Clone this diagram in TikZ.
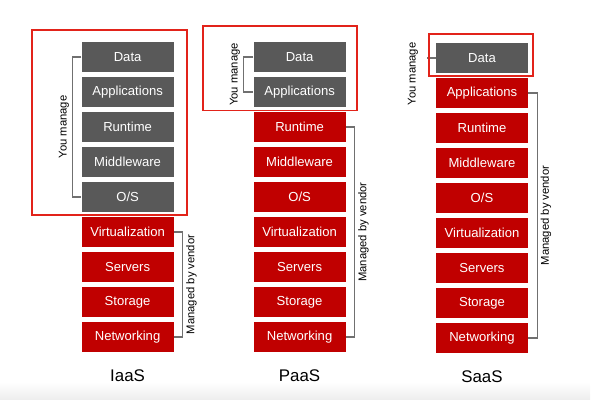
\documentclass[tikz,border=0pt]{standalone}
\usepackage{fontspec}
\setmainfont{Liberation Sans}
\usetikzlibrary{positioning}
\definecolor{boxred}{HTML}{C00000}
\definecolor{boxgray}{HTML}{595959}
\definecolor{framered}{HTML}{E2231A}
\definecolor{linegray}{HTML}{707070}
\tikzset{
layer/.style={minimum width=2.3cm, minimum height=0.75cm, inner sep=0pt, text=white, font=\fontsize{9.3}{10}\selectfont}, % one row of a stack
vendor/.style={layer, fill=boxred}, % rows the vendor runs
mine/.style={layer, fill=boxgray}, % rows you run yourself
frame/.style={draw=framered, line width=1.2pt},
bracket/.style={draw=linegray, line width=0.8pt},
side/.style={font=\fontsize{8}{9}\selectfont, rotate=90, inner sep=2pt},
model/.style={font=\fontsize{12}{14}\selectfont},
node distance=0.875cm, % pitch of the rows. Change if necessary.
}
\begin{document}
\begin{tikzpicture}
\useasboundingbox (0,0) rectangle (15,-10);
\shade[top color=white, bottom color=black!7] (0,-9.55) rectangle (14.75,-10);
% IaaS
\node[mine] (IData) at (3.19,-1.425) {Data};
\node[mine, below of=IData] (IApps) {Applications};
\node[mine, below of=IApps] (IRun) {Runtime};
\node[mine, below of=IRun] (IMid) {Middleware};
\node[mine, below of=IMid] (IOS) {O/S};
\node[vendor, below of=IOS] (IVirt) {Virtualization};
\node[vendor, below of=IVirt] (IServ) {Servers};
\node[vendor, below of=IServ] (IStor) {Storage};
\node[vendor, below of=IStor] (INet) {Networking};
\node[model, below of=INet, yshift=-0.1cm] (IaaS) {IaaS};
% PaaS
\node[mine] (PData) at (7.49,-1.425) {Data};
\node[mine, below of=PData] (PApps) {Applications};
\node[vendor, below of=PApps] (PRun) {Runtime};
\node[vendor, below of=PRun] (PMid) {Middleware};
\node[vendor, below of=PMid] (POS) {O/S};
\node[vendor, below of=POS] (PVirt) {Virtualization};
\node[vendor, below of=PVirt] (PServ) {Servers};
\node[vendor, below of=PServ] (PStor) {Storage};
\node[vendor, below of=PStor] (PNet) {Networking};
\node[model, below of=PNet, yshift=-0.1cm] (PaaS) {PaaS};
% SaaS
\node[mine] (SData) at (12.05,-1.45) {Data};
\node[vendor, below of=SData] (SApps) {Applications};
\node[vendor, below of=SApps] (SRun) {Runtime};
\node[vendor, below of=SRun] (SMid) {Middleware};
\node[vendor, below of=SMid] (SOS) {O/S};
\node[vendor, below of=SOS] (SVirt) {Virtualization};
\node[vendor, below of=SVirt] (SServ) {Servers};
\node[vendor, below of=SServ] (SStor) {Storage};
\node[vendor, below of=SStor] (SNet) {Networking};
\node[model, below of=SNet, yshift=-0.1cm] (SaaS) {SaaS};
% brackets
\draw[bracket] (IData.west) -| node[side, pos=0.75, above] {You manage} ([xshift=-0.225cm]IOS.west) -- (IOS.west);
\draw[bracket] (IVirt.east) -| node[side, pos=0.75, below] {Managed by vendor} ([xshift=0.225cm]INet.east) -- (INet.east);
\draw[bracket] (PData.west) -| node[side, pos=0.75, above] {You manage} ([xshift=-0.25cm]PApps.west) -- (PApps.west);
\draw[bracket] (PRun.east) -| node[side, pos=0.75, below] {Managed by vendor} ([xshift=0.225cm]PNet.east) -- (PNet.east);
\node[side] (SYou) at (10.325,-1.85) {You manage};
\draw[bracket, shorten >=0.15cm] (SData.west) -- (SData.west -| SYou.south);
\draw[bracket] (SApps.east) -| node[side, pos=0.75, below] {Managed by vendor} ([xshift=0.225cm]SNet.east) -- (SNet.east);
% red frames
\draw[frame] (0.8,-0.75) rectangle (4.675,-5.375);
\draw[frame] (5.075,-0.65) rectangle (8.925,-2.76);
\draw[frame] (10.725,-0.85) rectangle (13.325,-1.9);
\end{tikzpicture}
\end{document}
